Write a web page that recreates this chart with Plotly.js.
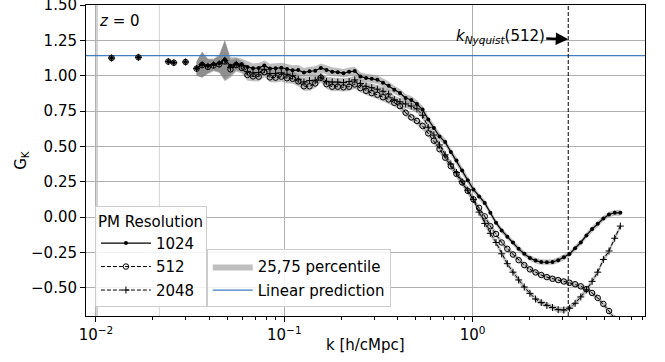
<!DOCTYPE html>
<html><head><meta charset="utf-8">
<script src="https://cdn.plot.ly/plotly-3.0.1.min.js"></script>
<style>html,body{margin:0;padding:0;background:#fff}#chart{width:665px;height:362px}</style>
</head><body><div id="chart"></div>
<script>
// isolated low-k bins (identical for all resolutions), null = empty bin
const kLow = [0.0121, null, 0.0168, null, 0.0242, 0.0259, null, 0.0299, null];
const gLow = [1.125, null, 1.130, null, 1.100, 1.092, null, 1.097, null];

const k = [0.0342,0.0366,0.0393,0.0421,0.0451,0.0483,0.0518,0.0555,0.0594,0.0637,
0.0682,0.0731,0.0783,0.0839,0.0899,0.0964,0.1033,0.1107,0.1186,0.1271,
0.1361,0.1459,0.1563,0.1675,0.1795,0.1923,0.2061,0.2208,0.2366,0.2535,
0.2716,0.2911,0.3119,0.3342,0.3581,0.3837,0.4111,0.4406,0.4721,0.5058,
0.5420,0.5808,0.6223,0.6668,0.7145,0.7656,0.8204,0.8790,0.9419,1.0093,
1.0814,1.1588,1.2417,1.3305,1.4256,1.5276,1.6368,1.7539,1.8793,2.0137,
2.1577,2.3121,2.4774,2.6546,2.8445,3.0479,3.2659,3.4995,3.7497,4.0179,
4.3053,4.6132,4.9431,5.2966,5.6754,6.0814];

const g1024 = [1.052,1.080,1.071,1.080,1.088,1.115,1.070,1.085,1.080,1.062,
1.052,1.055,1.072,1.050,1.052,1.056,1.048,1.038,1.040,1.022,
1.032,1.035,1.055,1.040,1.028,1.025,1.018,1.027,1.033,0.995,
0.983,0.978,0.971,0.950,0.928,0.900,0.878,0.842,0.828,0.800,
0.760,0.690,0.630,0.570,0.530,0.460,0.400,0.330,0.260,0.195,
0.145,0.100,0.030,-0.040,-0.095,-0.140,-0.180,-0.225,-0.260,-0.290,
-0.308,-0.318,-0.320,-0.318,-0.305,-0.285,-0.262,-0.220,-0.180,-0.130,
-0.085,-0.048,-0.010,0.018,0.030,0.030];

const g512 = [1.050,1.075,1.062,1.072,1.080,1.100,1.045,1.075,1.055,1.005,
0.995,0.993,1.025,0.988,0.986,0.993,0.982,0.978,0.960,0.925,
0.925,0.945,0.985,0.940,0.922,0.922,0.918,0.922,0.938,0.912,
0.893,0.877,0.865,0.848,0.832,0.808,0.785,0.738,0.705,0.680,
0.645,0.592,0.540,0.480,0.420,0.360,0.305,0.245,0.185,0.125,
0.065,0.005,-0.065,-0.120,-0.180,-0.225,-0.265,-0.305,-0.340,-0.370,
-0.392,-0.410,-0.425,-0.437,-0.446,-0.456,-0.465,-0.475,-0.490,-0.510,
-0.537,-0.572,-0.615,-0.665,-0.720,-0.780];

const g2048 = [1.050,1.078,1.066,1.076,1.084,1.108,1.058,1.080,1.068,1.030,
1.020,1.022,1.045,1.015,1.015,1.020,1.010,1.000,0.975,0.955,
0.965,0.968,0.990,0.960,0.955,0.955,0.952,0.958,0.970,0.945,
0.925,0.915,0.905,0.890,0.870,0.830,0.815,0.800,0.785,0.765,
0.720,0.635,0.580,0.510,0.440,0.375,0.315,0.250,0.190,0.125,
0.035,-0.045,-0.115,-0.180,-0.260,-0.330,-0.390,-0.445,-0.495,-0.540,
-0.580,-0.605,-0.625,-0.640,-0.655,-0.658,-0.645,-0.610,-0.565,-0.515,
-0.455,-0.390,-0.300,-0.240,-0.150,-0.064];

// half width of the 25-75 percentile band
const spread = [0.05,0.09,0.05,0.04,0.06,0.14,0.06,0.045,0.04,0.04,
0.035,0.035,0.035,0.035,0.035,0.035,0.035,0.035,0.035,0.032,
0.032,0.032,0.032,0.032,0.032,0.03,0.03,0.03,0.03,0.03,
0.03,0.03,0.03,0.03,0.03,0.028,0.028,0.028,0.028,0.028,
0.028,0.026,0.026,0.026,0.026,0.025,0.025,0.025,0.024,0.024,
0.022,0.022,0.022,0.02,0.02,0.02,0.02,0.02,0.02,0.02,
0.02,0.02,0.02,0.02,0.02,0.02,0.02,0.02,0.02,0.02,
0.02,0.02,0.02,0.02,0.02,0.02];

const linearPrediction = 1.142;
const kNyquist512 = 3.217;
const kMarks = [0.0101, 0.0217];

const xTickVals = [0.01, 0.1, 1];
const xTickText = ['10<sup>\u22122</sup>', '10<sup>\u22121</sup>', '10<sup>0</sup>'];
const xMinorVals = [0.02,0.03,0.04,0.05,0.06,0.07,0.08,0.09,0.2,0.3,0.4,0.5,0.6,0.7,0.8,0.9,2,3,4,5,6,7,8,9];
const seriesNames = ['1024', '512', '2048'];

const series = [g1024, g512, g2048];
const bandTraces = series.map((g, si) => {
  const up = g.map((v, i) => v + spread[i]);
  const lo = g.map((v, i) => v - spread[i]);
  return {
    x: k.concat(k.slice().reverse()),
    y: up.concat(lo.slice().reverse()),
    type: 'scatter', mode: 'lines', fill: 'toself',
    fillcolor: 'rgba(128,128,128,0.5)', line: {width: 0, color: 'rgba(0,0,0,0)'},
    name: '25,75 percentile', legend: 'legend2', legendgroup: 'band', legendrank: 1,
    showlegend: si === 0, hoverinfo: 'skip'
  };
});

const styles = [
  {line: {color: '#000', width: 1.2, dash: 'solid'}, marker: {symbol: 'circle', size: 4, color: '#000'}},
  {line: {color: '#000', width: 1, dash: '4px,2px'}, marker: {symbol: 'circle-open', size: 5.5, color: '#000', line: {width: 1, color: '#000'}}},
  {line: {color: '#000', width: 1, dash: '4px,2px'}, marker: {symbol: 'cross-thin-open', size: 5, color: '#000', line: {width: 1, color: '#000'}}}
];

const dataTraces = series.map((g, si) => ({
  x: kLow.concat(k), y: gLow.concat(g),
  type: 'scatter', mode: 'lines+markers',
  name: seriesNames[si], legend: 'legend', legendgroup: 'g' + si, legendrank: si + 1,
  line: styles[si].line, marker: styles[si].marker, connectgaps: false
}));

const linTrace = {
  x: [0.005, 20], y: [linearPrediction, linearPrediction],
  type: 'scatter', mode: 'lines', line: {color: '#3f7fbf', width: 1.2},
  name: 'Linear prediction', legend: 'legend2', legendgroup: 'lin', legendrank: 2
};

// draw 2048 first, 1024 last (on top)
const traces = bandTraces.concat([linTrace], dataTraces.slice().reverse());

const legendCommon = {
  xanchor: 'left', yanchor: 'bottom', bgcolor: 'rgba(255,255,255,0.85)',
  bordercolor: '#cccccc', borderwidth: 1, font: {size: 15, color: '#000'},
  traceorder: 'grouped', tracegroupgap: 1
};

const layout = {
  width: 665, height: 362,
  margin: {l: 86, r: 20, t: 5, b: 46},
  paper_bgcolor: '#fff', plot_bgcolor: '#fff',
  font: {family: 'DejaVu Sans, sans-serif', size: 15, color: '#000'},
  showlegend: true,
  xaxis: {
    type: 'log', range: [-2.053, 0.915],
    tickmode: 'array', tickvals: xTickVals, ticktext: xTickText,
    ticks: 'outside', ticklen: 5, tickcolor: '#000', tickfont: {size: 15, color: '#000'},
    showgrid: true, gridcolor: '#b0b0b0', gridwidth: 1,
    showline: true, linecolor: '#000', linewidth: 1, mirror: true, zeroline: false,
    minor: {tickmode: 'array', tickvals: xMinorVals, ticks: 'outside', ticklen: 3, tickcolor: '#000', showgrid: false}
  },
  yaxis: {
    range: [-0.7, 1.5], tick0: 0, dtick: 0.25, tickformat: '.2f', ticklabeloverflow: 'allow',
    ticks: 'outside', ticklen: 5, tickcolor: '#000', tickfont: {size: 15, color: '#000'},
    showgrid: true, gridcolor: '#b0b0b0', gridwidth: 1,
    showline: true, linecolor: '#000', linewidth: 1, mirror: true, zeroline: false,
    title: {text: 'G<sub>K</sub>', font: {size: 15, color: '#000'}, standoff: 0}
  },
  legend: Object.assign({x: 0.016, y: 0.028, itemwidth: 50,
    title: {text: 'PM Resolution', font: {size: 15, color: '#000'}}}, legendCommon),
  legend2: Object.assign({x: 0.216, y: 0.028, itemwidth: 40}, legendCommon),
  shapes: [
    {type: 'line', xref: 'x', yref: 'paper', x0: kMarks[0], x1: kMarks[0], y0: 0, y1: 1, layer: 'below', line: {color: 'rgba(200,200,200,0.8)', width: 2.5}},
    {type: 'line', xref: 'x', yref: 'paper', x0: kMarks[1], x1: kMarks[1], y0: 0, y1: 1, layer: 'below', line: {color: 'rgba(200,200,200,0.8)', width: 1}},
    {type: 'line', xref: 'x', yref: 'paper', x0: kNyquist512, x1: kNyquist512, y0: 0, y1: 1, line: {color: '#000', width: 1, dash: '4px,2px'}}
  ],
  annotations: [
    {xref: 'paper', yref: 'paper', x: 0.5, y: -0.093, xanchor: 'center', yanchor: 'middle', showarrow: false,
     text: 'k [h/cMpc]', font: {size: 15, color: '#000'}},
    {xref: 'paper', yref: 'paper', x: 0.019, y: 0.95, xanchor: 'left', yanchor: 'middle', showarrow: false,
     text: '<i>z</i> = 0', font: {size: 15, color: '#000'}},
    {xref: 'x', yref: 'y', x: Math.log10(kNyquist512), y: 1.257, ax: -68, ay: -3,
     text: '<i>k</i><sub><i>Nyquist</i></sub>(512)', font: {size: 15, color: '#000'},
     showarrow: true, arrowhead: 2, arrowsize: 1, arrowwidth: 2.5, arrowcolor: '#000', standoff: 0}
  ]
};

Plotly.newPlot('chart', traces, layout, {staticPlot: true, displayModeBar: false});
</script></body></html>
